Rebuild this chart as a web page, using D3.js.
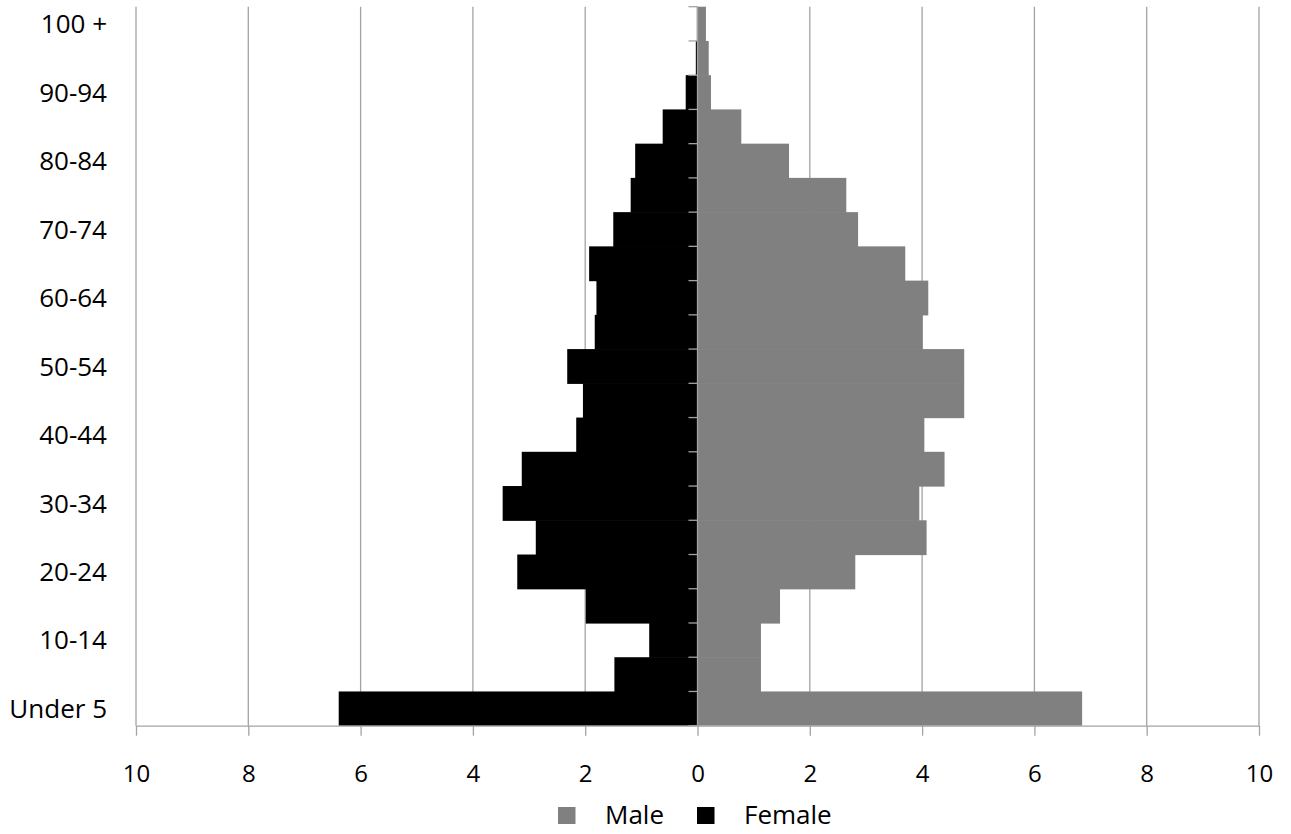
<!DOCTYPE html>
<html>
<head>
<meta charset="utf-8">
<script src="https://cdn.jsdelivr.net/npm/d3@7"></script>
<style>
  html, body { margin: 0; padding: 0; background: #fff; }
  svg { display: block; font-family: "Open Sans", sans-serif; }
  .lbl { font-size: 24px; fill: #000; }
  .cat, .leg { font-size: 26px; fill: #000; }
</style>
</head>
<body>
<svg id="chart" width="1291" height="834"></svg>
<script>
// age groups, bottom to top
const ageGroups = ["Under 5", "5-9", "10-14", "15-19", "20-24", "25-29", "30-34", "35-39",
  "40-44", "45-49", "50-54", "55-59", "60-64", "65-69", "70-74", "75-79", "80-84",
  "85-89", "90-94", "95-99", "100 +"];
const male = [6.85, 1.13, 1.13, 1.47, 2.81, 4.08, 3.95, 4.40, 4.04, 4.75, 4.75, 4.01,
  4.11, 3.70, 2.86, 2.65, 1.63, 0.78, 0.24, 0.20, 0.15];
const female = [6.39, 1.48, 0.86, 1.99, 3.21, 2.88, 3.47, 3.13, 2.16, 2.04, 2.32, 1.83,
  1.80, 1.93, 1.50, 1.19, 1.11, 0.62, 0.21, 0.03, 0.01];
const xTicks = [-10, -8, -6, -4, -2, 0, 2, 4, 6, 8, 10];
const legendItems = [{ name: "Male", color: "#808080" }, { name: "Female", color: "#000000" }];

const svg = d3.select("#chart");
const plotLeft = 136, plotRight = 1259, plotTop = 6.7, plotBottom = 725.7;
const gridColor = "#a3a3a3";

const x = d3.scaleLinear().domain([-10, 10]).range([plotLeft, plotRight]);
const y = d3.scaleBand().domain(ageGroups.slice().reverse()).range([plotTop, plotBottom]).paddingInner(0);

// vertical gridlines
svg.append("g")
  .selectAll("line")
  .data(xTicks)
  .join("line")
  .attr("x1", (d) => x(d)).attr("x2", (d) => x(d))
  .attr("y1", plotTop).attr("y2", plotBottom)
  .attr("stroke", gridColor)
  .attr("stroke-width", 1.3);

const rows = ageGroups.map((g, i) => ({ group: g, male: male[i], female: female[i], i }));

// bars overlap by half a pixel so no seams show between bands
svg.append("g")
  .selectAll("rect")
  .data(rows)
  .join("rect")
  .attr("x", (d) => x(-d.female))
  .attr("y", (d) => y(d.group))
  .attr("width", (d) => x(0) - x(-d.female))
  .attr("height", (d) => y.bandwidth() + (d.i > 0 ? 0.6 : 0))
  .attr("fill", "#000000");

svg.append("g")
  .selectAll("rect")
  .data(rows)
  .join("rect")
  .attr("x", x(0))
  .attr("y", (d) => y(d.group))
  .attr("width", (d) => x(d.male) - x(0))
  .attr("height", (d) => y.bandwidth() + (d.i > 0 ? 0.6 : 0))
  .attr("fill", "#808080");

// x axis
const xAxis = svg.append("g")
  .attr("transform", `translate(0,${plotBottom})`)
  .call(d3.axisBottom(x).tickValues(xTicks).tickFormat((d) => Math.abs(d)).tickSize(10).tickPadding(29).tickSizeOuter(0));
xAxis.select(".domain").attr("stroke", gridColor).attr("stroke-width", 1.3);
xAxis.selectAll(".tick line").attr("stroke", gridColor).attr("stroke-width", 1.3);
xAxis.attr("font-size", null).attr("font-family", null);
xAxis.selectAll(".tick text").attr("class", "lbl");

// y axis at zero, ticks at category boundaries
const bounds = ageGroups.map((g) => y(g) + y.bandwidth()).concat([plotTop]);
const yAxis = svg.append("g");
yAxis.append("line")
  .attr("x1", x(0)).attr("x2", x(0)).attr("y1", plotTop).attr("y2", plotBottom)
  .attr("stroke", gridColor).attr("stroke-width", 1.3);
yAxis.selectAll("line.tk")
  .data(bounds)
  .join("line")
  .attr("class", "tk")
  .attr("x1", x(0) - 9).attr("x2", x(0))
  .attr("y1", (d) => d).attr("y2", (d) => d)
  .attr("stroke", gridColor).attr("stroke-width", 1.3);

// category labels (every other)
svg.append("g")
  .selectAll("text")
  .data(ageGroups.filter((g, i) => i % 2 === 0))
  .join("text")
  .attr("class", "cat")
  .attr("x", 107)
  .attr("y", (d) => y(d) + y.bandwidth() / 2)
  .attr("dy", "0.36em")
  .attr("text-anchor", "end")
  .text((d) => d);

// legend
const legendPos = [558, 697];
const legend = svg.append("g")
  .selectAll("g")
  .data(legendItems)
  .join("g")
  .attr("transform", (d, i) => `translate(${legendPos[i]},807)`);
legend.append("rect").attr("width", 17.5).attr("height", 17).attr("fill", (d) => d.color);
legend.append("text").attr("class", "leg").attr("x", 47).attr("y", 17).text((d) => d.name);
</script>
</body>
</html>
